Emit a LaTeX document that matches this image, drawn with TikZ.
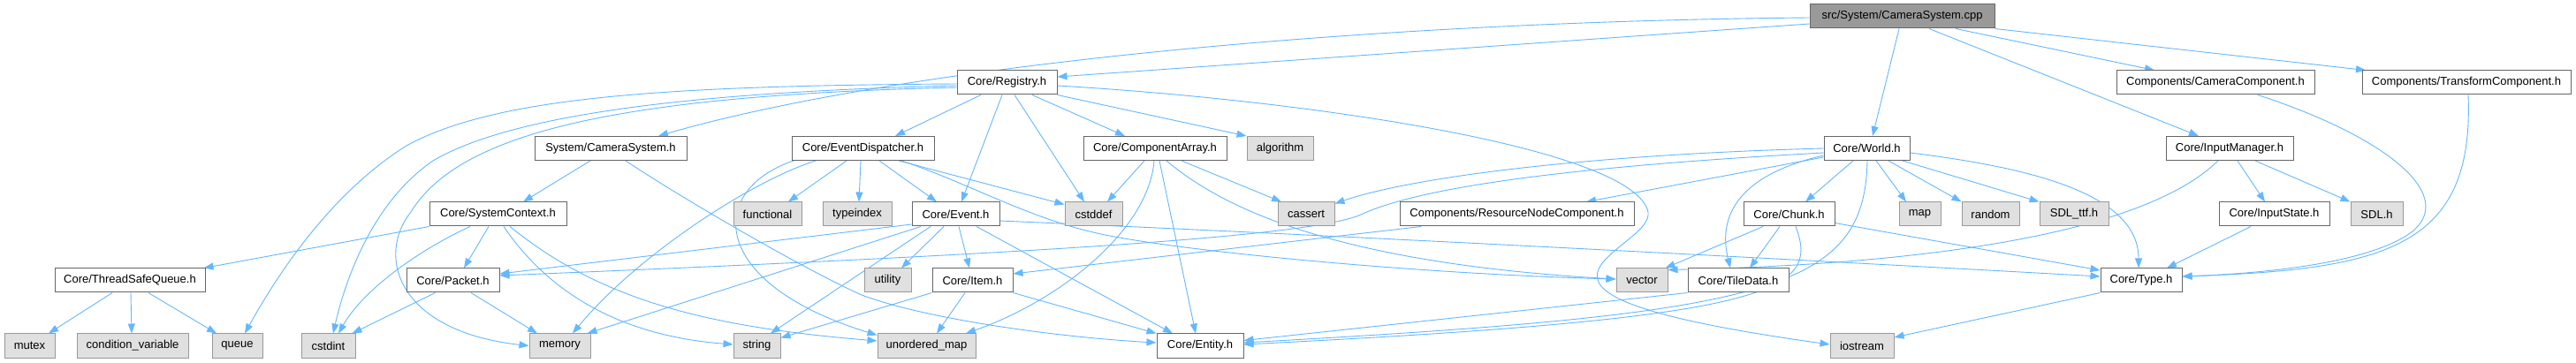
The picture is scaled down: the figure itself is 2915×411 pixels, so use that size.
\documentclass[tikz,border=0pt]{standalone}
\usepackage{fontspec}
\setmainfont{Liberation Sans}
\usetikzlibrary{arrows.meta,backgrounds}
\definecolor{EdgeBlue}{HTML}{63B8FF}
\definecolor{BoxLine}{HTML}{666666}
\definecolor{ExtLine}{HTML}{999999}
\definecolor{ExtFill}{HTML}{E0E0E0}
\definecolor{RootFill}{HTML}{999999}
\tikzset{
  hdr/.style={draw=BoxLine,fill=white,line width=1pt,minimum height=27pt,inner sep=0pt,font=\fontsize{13}{15}\selectfont},
  ext/.style={hdr,draw=ExtLine,fill=ExtFill},
  srcbox/.style={hdr,fill=RootFill},
  dep/.style={draw=EdgeBlue,line width=0.9pt,-{Triangle[length=11pt,width=8pt]}},
}

\begin{document}
\begin{tikzpicture}[x=1pt,y=-1pt]
\useasboundingbox (0,0) rectangle (2915,411);
\node[srcbox,minimum width=209pt] (root) at (2152.5,18.5) {src/System/CameraSystem.cpp};
\node[hdr,minimum width=113pt] (reg) at (1139.5,93.5) {Core/Registry.h};
\node[hdr,minimum width=224pt] (camc) at (2507,93.5) {Components/CameraComponent.h};
\node[hdr,minimum width=236pt] (trc) at (2791,93.5) {Components/TransformComponent.h};
\node[hdr,minimum width=172pt] (syscam) at (691,168) {System/CameraSystem.h};
\node[hdr,minimum width=161pt] (evd) at (976.5,168) {Core/EventDispatcher.h};
\node[hdr,minimum width=162pt] (comparr) at (1307,168) {Core/ComponentArray.h};
\node[ext,minimum width=75pt] (algo) at (1448.5,168) {algorithm};
\node[hdr,minimum width=97pt] (world) at (2112.5,168) {Core/World.h};
\node[hdr,minimum width=144pt] (inmgr) at (2523,168) {Core/InputManager.h};
\node[hdr,minimum width=155pt] (sysctx) at (563.5,242.5) {Core/SystemContext.h};
\node[ext,minimum width=77pt] (functional) at (868.5,242.5) {functional};
\node[ext,minimum width=78pt] (typeindex) at (970,242.5) {typeindex};
\node[hdr,minimum width=99pt] (event) at (1081.5,242.5) {Core/Event.h};
\node[ext,minimum width=65pt] (cstddef) at (1237.5,242.5) {cstddef};
\node[ext,minimum width=64pt] (cassert) at (1478,242.5) {cassert};
\node[hdr,minimum width=265pt] (resnode) at (1716.5,242.5) {Components/ResourceNodeComponent.h};
\node[hdr,minimum width=103pt] (chunk) at (2024.5,242.5) {Core/Chunk.h};
\node[ext,minimum width=47pt] (map) at (2172.5,242.5) {map};
\node[ext,minimum width=65pt] (random) at (2252.5,242.5) {random};
\node[ext,minimum width=78pt] (sdlttf) at (2347,242.5) {SDL\_ttf.h};
\node[hdr,minimum width=125pt] (inst) at (2573.5,242.5) {Core/InputState.h};
\node[ext,minimum width=59pt] (sdl) at (2689.5,242.5) {SDL.h};
\node[hdr,minimum width=170pt] (tsq) at (147,317.5) {Core/ThreadSafeQueue.h};
\node[hdr,minimum width=105pt] (packet) at (512.5,317.5) {Core/Packet.h};
\node[ext,minimum width=53pt] (utility) at (1004.5,317.5) {utility};
\node[hdr,minimum width=91pt] (item) at (1100.5,317.5) {Core/Item.h};
\node[ext,minimum width=58pt] (vector) at (1858,317.5) {vector};
\node[hdr,minimum width=114pt] (tiledata) at (1967,317.5) {Core/TileData.h};
\node[hdr,minimum width=92pt] (type) at (2423,317.5) {Core/Type.h};
\node[ext,minimum width=57pt] (mutex) at (33.5,391.5) {mutex};
\node[ext,minimum width=126pt] (condvar) at (150,391.5) {condition\_variable};
\node[ext,minimum width=57pt] (queue) at (268.5,391.5) {queue};
\node[ext,minimum width=61pt] (cstdint) at (371.5,391.5) {cstdint};
\node[ext,minimum width=69pt] (memory) at (633.5,391.5) {memory};
\node[ext,minimum width=53pt] (string) at (856.5,391.5) {string};
\node[ext,minimum width=111pt] (umap) at (1048.5,391.5) {unordered\_map};
\node[hdr,minimum width=98pt] (entity) at (1358,391.5) {Core/Entity.h};
\node[ext,minimum width=72pt] (iostream) at (2107,391.5) {iostream};
\begin{pgfonlayer}{background}
\fill[white] (0,0) rectangle (2915,411);
\draw[dep] ([yshift=-8.5pt]root.west) -- ([yshift=6.5pt]reg.east);
\draw[dep] ([yshift=-1.5pt]root.west) .. controls (1500,25) and (1000,80) .. ([xshift=54pt]syscam.north);
\draw[dep] ([xshift=-3.5pt]root.south) -- ([xshift=6.5pt]world.north);
\draw[dep] ([xshift=60.5pt]root.south) -- ([xshift=-69pt]camc.north);
\draw[dep] (root.south east) -- ([xshift=-114pt]trc.north);
\draw[dep] ([xshift=30.5pt]root.south) -- ([xshift=-35pt]inmgr.north);
\draw[dep] ([xshift=-29.5pt]reg.south) -- ([xshift=36.5pt]evd.north);
\draw[dep] ([xshift=-5.5pt]reg.south) -- ([xshift=6.5pt]event.north);
\draw[dep] ([xshift=8.5pt]reg.south) -- ([xshift=-10.5pt]cstddef.north);
\draw[dep] ([xshift=28.5pt]reg.south) -- ([xshift=-34pt]comparr.north);
\draw[dep] (reg.south east) -- (algo.north west);
\draw[dep] ([yshift=-3.5pt]reg.east) .. controls (1500,115) and (1850,170) .. (1865,240) .. controls (1872,285) and (1640,330) .. ([yshift=1.5pt]iostream.west);
\draw[dep] ([yshift=-1.5pt]reg.west) .. controls (750,97) and (560,110) .. (460,165) .. controls (380,215) and (320,300) .. ([xshift=8.5pt]queue.north);
\draw[dep] ([yshift=-3.5pt]reg.west) .. controls (750,105) and (570,135) .. (490,182) .. controls (420,230) and (390,320) .. ([xshift=5.5pt]cstdint.north);
\draw[dep] ([yshift=-5.5pt]reg.west) .. controls (700,108) and (520,150) .. (465,240) .. controls (425,290) and (450,375) .. (memory.west);
\draw[dep] ([xshift=-23pt]syscam.south) -- ([xshift=28.5pt]sysctx.north);
\draw[dep] ([xshift=17pt]syscam.south) .. controls (760,217) and (900,300) .. (975,334) .. controls (1050,362) and (1200,382) .. ([yshift=3.5pt]entity.west);
\draw[dep] ([xshift=-78.5pt]evd.south) .. controls (800,215) and (800,320) .. ([yshift=-2pt]umap.north west);
\draw[dep] ([xshift=-53.5pt]evd.south) .. controls (850,205) and (720,290) .. ([xshift=14.5pt]memory.north);
\draw[dep] ([xshift=-18.5pt]evd.south) -- ([xshift=23.5pt]functional.north);
\draw[dep] ([xshift=-2.5pt]evd.south) -- ([xshift=2pt]typeindex.north);
\draw[dep] ([xshift=18.5pt]evd.south) -- ([xshift=-21.5pt]event.north);
\draw[dep] ([xshift=40.5pt]evd.south) -- ([yshift=-3pt]cstddef.north west);
\draw[dep] ([xshift=43.5pt]evd.south) .. controls (1090,205) and (1160,245) .. (1237,263) .. controls (1320,283) and (1600,310) .. ([yshift=1.5pt]vector.west);
\draw[dep] ([xshift=-12pt]comparr.south) -- ([xshift=15.5pt]cstddef.north);
\draw[dep] ([xshift=-1pt]comparr.south) .. controls (1300,260) and (1200,340) .. ([xshift=44.5pt]umap.north);
\draw[dep] ([xshift=5pt]comparr.south) -- ([xshift=-5pt]entity.north);
\draw[dep] ([xshift=13pt]comparr.south) .. controls (1400,250) and (1550,300) .. ([yshift=1.5pt]vector.west);
\draw[dep] ([xshift=30pt]comparr.south) -- ([xshift=-28pt]cassert.north);
\draw[dep] (world.west) .. controls (1800,175) and (1600,200) .. ([yshift=-2pt]cassert.north east);
\draw[dep] ([yshift=-5pt]world.west) .. controls (1750,190) and (1600,215) .. (1540,243) .. controls (1480,270) and (1100,290) .. ([yshift=5.5pt]packet.east);
\draw[dep] ([yshift=-10pt]world.west) -- ([xshift=78.5pt]resnode.north);
\draw[dep] ([yshift=-8pt]world.west) .. controls (1960,200) and (1945,250) .. ([xshift=-9pt]tiledata.north);
\draw[dep] ([xshift=-15.5pt]world.south) -- ([xshift=18.5pt]chunk.north);
\draw[dep] ([xshift=10.5pt]world.south) -- ([xshift=-15.5pt]map.north);
\draw[dep] ([xshift=24.5pt]world.south) -- (random.north west);
\draw[dep] ([xshift=40.5pt]world.south) -- (sdlttf.north west);
\draw[dep] ([yshift=-5pt]world.east) .. controls (2300,190) and (2420,220) .. ([xshift=-3pt]type.north);
\draw[dep] ([xshift=0.5pt]world.south) .. controls (2110,330) and (2000,355) .. ([yshift=3.5pt]entity.east);
\draw[dep] ([xshift=-29.5pt]chunk.south) -- ([xshift=-3pt]vector.north east);
\draw[dep] ([xshift=-10.5pt]chunk.south) -- ([xshift=13pt]tiledata.north);
\draw[dep] ([xshift=7.5pt]chunk.south) .. controls (2060,330) and (2010,360) .. ([yshift=1.5pt]entity.east);
\draw[dep] ([yshift=-10pt]chunk.east) -- ([yshift=11.5pt]type.west);
\draw[dep] (tiledata.south west) -- ([yshift=6pt]entity.east);
\draw[dep] ([xshift=-13pt]inmgr.south) .. controls (2420,270) and (2150,300) .. ([yshift=-2pt]vector.north east);
\draw[dep] ([xshift=9pt]inmgr.south) -- ([xshift=-10.5pt]inst.north);
\draw[dep] ([xshift=29pt]inmgr.south) -- (sdl.north west);
\draw[dep] ([xshift=-26.5pt]inst.south) -- ([xshift=29pt]type.north);
\draw[dep] ([xshift=48pt]camc.south) .. controls (2700,155) and (2780,220) .. (2730,262) .. controls (2680,300) and (2550,310) .. ([yshift=4.5pt]type.east);
\draw[dep] ([xshift=2pt]trc.south) .. controls (2800,280) and (2700,305) .. ([yshift=4.5pt]type.east);
\draw[dep] ([yshift=-11.5pt]event.west) -- ([yshift=7.5pt]packet.east);
\draw[dep] ([xshift=-39.5pt]event.south) -- ([xshift=-4pt]memory.north east);
\draw[dep] ([xshift=-28.5pt]event.south) -- ([xshift=15.5pt]string.north);
\draw[dep] ([xshift=-13.5pt]event.south) -- ([xshift=15.5pt]utility.north);
\draw[dep] ([xshift=3.5pt]event.south) -- ([xshift=-3.5pt]item.north);
\draw[dep] ([xshift=23.5pt]event.south) -- ([xshift=-31pt]entity.north);
\draw[dep] ([yshift=-7.5pt]event.east) .. controls (1500,266) and (2000,292) .. ([yshift=4.5pt]type.west);
\draw[dep] (sysctx.south west) -- ([xshift=-2pt]tsq.north east);
\draw[dep] ([xshift=-10.5pt]sysctx.south) -- ([xshift=12.5pt]packet.north);
\draw[dep] ([xshift=-31.5pt]sysctx.south) .. controls (470,285) and (410,330) .. ([xshift=11.5pt]cstdint.north);
\draw[dep] ([xshift=6.5pt]sysctx.south) .. controls (620,330) and (700,380) .. ([yshift=1.5pt]string.west);
\draw[dep] ([xshift=13.5pt]sysctx.south) .. controls (680,340) and (800,370) .. ([yshift=5.5pt]umap.west);
\draw[dep] ([xshift=-20pt]tsq.south) -- ([xshift=21.5pt]mutex.north);
\draw[dep] ([xshift=1pt]tsq.south) -- ([xshift=-1pt]condvar.north);
\draw[dep] ([xshift=21pt]tsq.south) -- ([xshift=-23.5pt]queue.north);
\draw[dep] ([xshift=-20pt]packet.south) -- ([xshift=-4pt]cstdint.north east);
\draw[dep] ([xshift=20.5pt]packet.south) -- ([xshift=-25.5pt]memory.north);
\draw[dep] (item.south west) -- ([yshift=9pt]string.east);
\draw[dep] ([xshift=-8.5pt]item.south) -- ([xshift=11.5pt]umap.north);
\draw[dep] (item.south east) -- (entity.north west);
\draw[dep] ([xshift=-108.5pt]resnode.south) -- ([yshift=7.5pt]item.east);
\draw[dep] (type.south west) -- ([yshift=9.5pt]iostream.east);
\end{pgfonlayer}
\end{tikzpicture}
\end{document}
